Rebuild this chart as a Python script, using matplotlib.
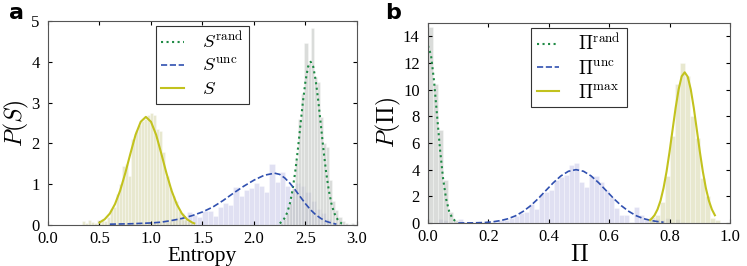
import numpy as np
import matplotlib
matplotlib.use("Agg")
import matplotlib.pyplot as plt

# ---- panel a: entropy ----
s_hist_start, s_hist_w = 0.33, 0.03
s_hist = [0.1, 0.05, 0.12, 0.08, 0.05, 0.12, 0.15, 0.1, 0.2, 0.4, 0.45, 0.75, 1.0,
          1.45, 1.5, 1.2, 2.1, 2.3, 2.45, 2.55, 2.6, 2.7, 2.75, 2.7, 2.35, 2.3, 1.8,
          1.2, 0.9, 0.7, 0.6, 0.35, 0.3, 0.15, 0.1, 0.05, 0.03]

unc_hist_start, unc_hist_w = 0.55, 0.05
unc_hist = [0.02, 0.03, 0.02, 0.05, 0.04, 0.06, 0.05, 0.07, 0.08, 0.07, 0.1, 0.12,
            0.1, 0.15, 0.2, 0.12, 0.33, 0.25, 0.2, 0.34, 0.34, 0.22, 0.45, 0.54, 0.5,
            0.94, 0.7, 0.86, 0.9, 1.02, 0.95, 0.8, 1.5, 1.05, 1.3, 0.96, 0.85, 1.03,
            0.95, 0.8, 0.6, 0.4, 0.3, 0.15, 0.08, 0.03]

rand_hist_start, rand_hist_w = 2.25, 0.03
rand_hist = [0.05, 0.15, 0.3, 0.55, 0.9, 1.6, 2.6, 3.2, 4.46, 3.97, 4.83, 3.63, 3.5,
             2.65, 2.0, 1.9, 1.1, 0.6, 0.37, 0.2, 0.1, 0.05, 0.03, 0.06]

s_fit_x = [0.50, 0.55, 0.60, 0.65, 0.70, 0.75, 0.80, 0.85, 0.90, 0.95, 1.00, 1.05,
           1.10, 1.15, 1.20, 1.25, 1.30, 1.35, 1.40, 1.42]
s_fit_y = [0.06, 0.14, 0.28, 0.51, 0.84, 1.27, 1.75, 2.21, 2.53, 2.65, 2.53, 2.21,
           1.75, 1.27, 0.84, 0.51, 0.28, 0.14, 0.06, 0.04]

unc_fit_x = [0.60, 0.80, 1.00, 1.10, 1.20, 1.30, 1.40, 1.50, 1.60, 1.70, 1.80, 1.90,
             2.00, 2.10, 2.20, 2.25, 2.30, 2.35, 2.40, 2.45, 2.50, 2.55, 2.60, 2.65,
             2.70, 2.75, 2.80]
unc_fit_y = [0.02, 0.03, 0.05, 0.07, 0.11, 0.16, 0.23, 0.32, 0.44, 0.60, 0.78, 0.95,
             1.10, 1.22, 1.27, 1.24, 1.15, 1.02, 0.86, 0.69, 0.52, 0.37, 0.25, 0.16,
             0.09, 0.05, 0.02]

rand_fit_x = [2.25, 2.275, 2.30, 2.325, 2.35, 2.375, 2.40, 2.425, 2.45, 2.475, 2.50,
              2.525, 2.55, 2.575, 2.60, 2.625, 2.65, 2.675, 2.70, 2.725, 2.75, 2.775,
              2.80, 2.825, 2.85, 2.87]
rand_fit_y = [0.04, 0.09, 0.18, 0.32, 0.54, 0.87, 1.30, 1.83, 2.43, 3.02, 3.53, 3.88,
              4.0, 3.88, 3.53, 3.02, 2.43, 1.83, 1.30, 0.87, 0.54, 0.32, 0.18, 0.09,
              0.04, 0.02]

# ---- panel b: Pi ----
pi_bin_w = 1 / 60
pi_rand_start = 0
pi_rand_hist = [14.7, 10.4, 7.0, 3.2, 0.8, 0.2]
pi_unc_start = 2
pi_unc_hist = [0.3, 0.2, 0.05, 0.05, 0.3, 0.1, 0.02, 0.03, 0.05, 0.05, 0.1, 0.1, 0.2,
               0.25, 0.4, 0.55, 0.78, 0.85, 1.4, 1.03, 2.2, 2.35, 2.5, 3.2, 3.45, 3.6,
               4.35, 4.47, 3.1, 2.72, 3.5, 3.5, 3.1, 2.45, 1.95, 1.1, 0.6, 0.6, 0.1,
               1.2, 0.6, 0.3, 0.45, 0.3, 0.2, 0.35, 0.1, 0.3, 0.05]
pi_max_start = 44
pi_max_hist = [0.3, 0.6, 1.6, 3.5, 6.5, 10.4, 12.0, 11.0, 8.0, 6.4, 3.4, 2.0, 0.4, 0.2]

pi_rand_fit_x = [0.0, 0.01, 0.02, 0.03, 0.04, 0.05, 0.06, 0.07, 0.08, 0.09, 0.10]
pi_rand_fit_y = [13.3, 12.58, 10.65, 8.07, 5.47, 3.32, 1.80, 0.88, 0.38, 0.15, 0.05]

pi_unc_fit_x = [0.10, 0.15, 0.19, 0.215, 0.24, 0.265, 0.29, 0.315, 0.34, 0.365, 0.39,
                0.415, 0.44, 0.465, 0.49, 0.515, 0.54, 0.565, 0.59, 0.615, 0.64,
                0.665, 0.69, 0.715, 0.74, 0.765, 0.78]
pi_unc_fit_y = [0.0, 0.01, 0.04, 0.09, 0.18, 0.32, 0.54, 0.87, 1.30, 1.83, 2.43, 3.02,
                3.53, 3.88, 4.0, 3.88, 3.53, 3.02, 2.43, 1.83, 1.30, 0.87, 0.54, 0.32,
                0.18, 0.09, 0.06]

pi_max_fit_x = [0.735, 0.74, 0.75, 0.76, 0.77, 0.78, 0.79, 0.80, 0.81, 0.82, 0.83, 0.84,
                0.85, 0.86, 0.87, 0.88, 0.89, 0.90, 0.91, 0.92, 0.93, 0.94, 0.95]
pi_max_fit_y = [0.22, 0.31, 0.58, 1.02, 1.68, 2.63, 3.87, 5.37, 7.02, 8.65, 10.03, 11.0,
                11.3, 10.97, 10.03, 8.65, 7.02, 5.37, 3.87, 2.63, 1.68, 1.02, 0.58]

plt.rcParams["font.family"] = ["Liberation Serif", "DejaVu Serif"]
plt.rcParams["mathtext.fontset"] = "cm"

GREEN = "#1f8a45"
BLUE = "#3050b0"
YELLOW = "#c2c21e"
C_RAND = "#bcc0bc"
C_UNC = "#c8c8e8"
C_S = "#d6d6a8"


def hist_bars(ax, start, width, heights, color, offset=0):
    lefts = [start + (offset + i) * width for i in range(len(heights))]
    ax.bar(lefts, heights, width=width, align="edge", color=color, alpha=0.55,
           edgecolor="white", linewidth=0.4)


def style_axes(ax):
    ax.tick_params(direction="in", top=True, right=True, labelsize=12, length=3)
    ax.tick_params(axis="x", pad=4)
    ax.tick_params(axis="y", pad=6)
    for sp in ax.spines.values():
        sp.set_color("#555555")
        sp.set_linewidth(0.8)


def add_legend(ax):
    leg = ax.legend(loc="upper center", fontsize=13.5, fancybox=False, framealpha=1,
                    handlelength=1.2, borderaxespad=0.25, labelspacing=0.3,
                    handletextpad=1.0, borderpad=0.3)
    leg.get_frame().set_edgecolor("#333333")
    leg.get_frame().set_linewidth(0.8)


fig = plt.figure(figsize=(7.47, 2.66), dpi=100)

ax1 = fig.add_axes([48 / 747, 1 - 225 / 266, 309 / 747, 204 / 266])
hist_bars(ax1, unc_hist_start, unc_hist_w, unc_hist, C_UNC)
hist_bars(ax1, s_hist_start, s_hist_w, s_hist, C_S)
hist_bars(ax1, rand_hist_start, rand_hist_w, rand_hist, C_RAND)
ax1.plot(rand_fit_x, rand_fit_y, color=GREEN, ls=":", lw=1.5, label=r"$S^{\rm rand}$")
ax1.plot(unc_fit_x, unc_fit_y, color=BLUE, ls="--", lw=1.2, label=r"$S^{\rm unc}$")
ax1.plot(s_fit_x, s_fit_y, color=YELLOW, ls="-", lw=1.5, label=r"$S$")
ax1.set_xlim(0, 3)
ax1.set_ylim(0, 5)
ax1.set_xticks([0.0, 0.5, 1.0, 1.5, 2.0, 2.5, 3.0])
ax1.set_xticklabels(["0.0", "0.5", "1.0", "1.5", "2.0", "2.5", "3.0"])
ax1.set_yticks([0, 1, 2, 3, 4, 5])
ax1.set_xlabel("Entropy", fontsize=15.5, labelpad=0)
ax1.set_ylabel(r"$P(S)$", fontsize=17, labelpad=0)
style_axes(ax1)
add_legend(ax1)
fig.text(0.012, 0.93, "a", fontsize=16, fontweight="bold", family="DejaVu Sans")

ax2 = fig.add_axes([428 / 747, 1 - 223 / 266, 302 / 747, 200 / 266])
hist_bars(ax2, 0, pi_bin_w, pi_unc_hist, C_UNC, pi_unc_start)
hist_bars(ax2, 0, pi_bin_w, pi_max_hist, C_S, pi_max_start)
hist_bars(ax2, 0, pi_bin_w, pi_rand_hist, C_RAND, pi_rand_start)
ax2.plot(pi_rand_fit_x, pi_rand_fit_y, color=GREEN, ls=":", lw=1.5,
         label=r"$\Pi^{\rm rand}$")
ax2.plot(pi_unc_fit_x, pi_unc_fit_y, color=BLUE, ls="--", lw=1.2,
         label=r"$\Pi^{\rm unc}$")
ax2.plot(pi_max_fit_x, pi_max_fit_y, color=YELLOW, ls="-", lw=1.5,
         label=r"$\Pi^{\rm max}$")
ax2.set_xlim(0, 1)
ax2.set_ylim(0, 15)
ax2.set_xticks([0.0, 0.2, 0.4, 0.6, 0.8, 1.0])
ax2.set_xticklabels(["0.0", "0.2", "0.4", "0.6", "0.8", "1.0"])
ax2.set_yticks(range(0, 15, 2))
ax2.set_xlabel(r"$\Pi$", fontsize=17, labelpad=0)
ax2.set_ylabel(r"$P(\Pi)$", fontsize=17, labelpad=0)
style_axes(ax2)
add_legend(ax2)
fig.text(0.515, 0.93, "b", fontsize=16, fontweight="bold", family="DejaVu Sans")

fig.savefig("out.png", dpi=100)
